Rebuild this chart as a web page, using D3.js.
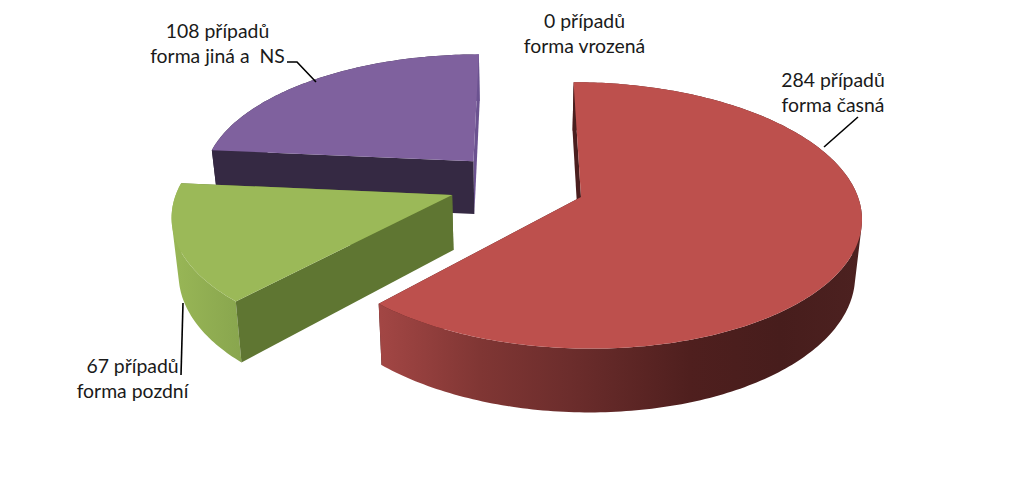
<!DOCTYPE html>
<html><head><meta charset="utf-8">
<script src="https://cdn.jsdelivr.net/npm/d3@7/dist/d3.min.js"></script>
<style>html,body{margin:0;padding:0;background:#fff}svg{display:block}text{font-family:Lato,sans-serif;font-size:19.4px;fill:#1a1a1a;white-space:pre;text-anchor:middle}</style>
</head><body><svg id="c" width="1024" height="503"></svg>
<script>
const categories = ["forma vrozená", "forma časná", "forma pozdní", "forma jiná a  NS"];
const values = [0, 284, 67, 108];
const unit = "případů";
const topColors = ["#000", "#BD504D", "#9BB958", "#7F619E"];
const cutColors = ["#000", "#4A1E1E", "#5F7632", "#352943"];
const farCutColors = ["#000", "#4A1E1E", "#5F7632", "#6B5290"];
const wallStops = [
  [],
  [[381,"#A24644"],[480,"#803634"],[570,"#6C2D2C"],[690,"#4F1F1E"],[780,"#471D1C"],[860,"#4C2120"]],
  [[175,"#98B656"],[240,"#89A64E"]],
  [[210,"#352943"],[472,"#352943"],[475,"#6B5290"],[482,"#6B5290"]]
];
// explode offsets of each slice on the pie plane (layout)
const offsetX = [0, 61, -68, -48.4];
const offsetZ = [0, 0, 0.015, 0.285];
const drawOrder = [3, 2, 1];

// perspective of the pie plane
const R = 277, vx = 520, horizon = -750, q = 0.138, topA = 947, botA = 1002, botShrink = 0.98;
function project(i, a, r, bottom) {
  const X = offsetX[i] + r * R * Math.sin(a);
  const z = offsetZ[i] + r * Math.cos(a);
  const t = 1 / (1 + q * z);
  return bottom
    ? [vx + X * t * botShrink, horizon + botA * t]
    : [vx + X * t, horizon + topA * t];
}
const line = d3.line();
const svg = d3.select("#c");
const defs = svg.append("defs");
const arcs = d3.pie().sort(null).startAngle(0).endAngle(2 * Math.PI)(values);

function arcAngles(d) {
  const n = Math.max(2, Math.ceil((d.endAngle - d.startAngle) * 60));
  return d3.range(n + 1).map(k => d.startAngle + (d.endAngle - d.startAngle) * k / n);
}
// the rim is swept as quads of one winding so its silhouette is filled too
function rimPath(i, as) {
  return d3.pairs(as).map(([a, b]) => {
    const quad = [project(i, a, 1, false), project(i, b, 1, false), project(i, b, 1, true), project(i, a, 1, true)];
    if (d3.polygonArea(quad) < 0) quad.reverse();
    return line(quad) + "Z";
  }).join("");
}
drawOrder.forEach(i => {
  const d = arcs[i];
  const g = svg.append("g");
  const as = arcAngles(d);
  const grad = defs.append("linearGradient").attr("id", "w" + i)
    .attr("gradientUnits", "userSpaceOnUse")
    .attr("x1", wallStops[i][0][0]).attr("x2", wallStops[i][wallStops[i].length - 1][0]).attr("y1", 0).attr("y2", 0);
  const x0 = wallStops[i][0][0], x1 = wallStops[i][wallStops[i].length - 1][0];
  wallStops[i].forEach(s => grad.append("stop").attr("offset", (s[0] - x0) / (x1 - x0)).attr("stop-color", s[1]));
  const cut = (a, c) => g.append("path").attr("fill", c).attr("d", line([
    project(i, a, 0, false), project(i, a, 1, false), project(i, a, 1, true), project(i, a, 0, true)
  ]) + "Z");
  cut(d.endAngle, farCutColors[i]);
  g.append("path").attr("fill", `url(#w${i})`).attr("d", rimPath(i, as));
  cut(d.startAngle, cutColors[i]);
  g.append("path").attr("fill", topColors[i]).attr("d", line(
    [project(i, 0, 0, false)].concat(as.map(a => project(i, a, 1, false)))
  ) + "Z");
});

// leader lines and labels (layout)
const leaders = [null, [[824,147],[858,117]], [[183,303],[181,375]], [[287,62],[297,62],[316,82]]];
leaders.forEach(p => { if (p) svg.append("path").attr("d", line(p)).attr("fill", "none").attr("stroke", "#000").attr("stroke-width", 1.6); });
const labelX = [584.5, 833, 132.5, 217.5];
const labelY = [28, 87, 373, 38];
categories.forEach((c, i) => {
  svg.append("text").attr("x", labelX[i]).attr("y", labelY[i]).text(`${values[i]} ${unit}`);
  svg.append("text").attr("x", labelX[i]).attr("y", labelY[i] + 25).text(c);
});
</script></body></html>
